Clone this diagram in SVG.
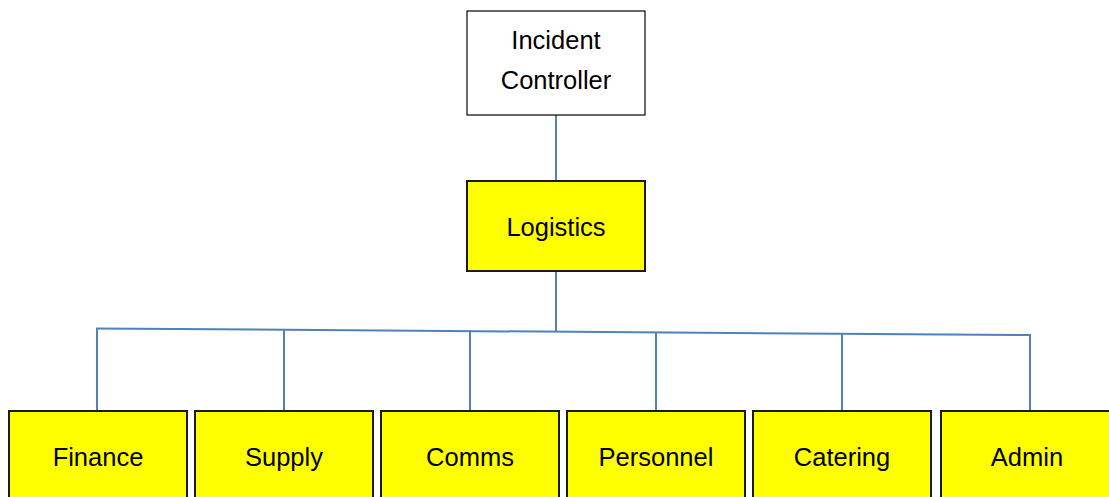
<svg xmlns="http://www.w3.org/2000/svg" width="1109" height="497" viewBox="0 0 1109 497">
  <style>
    .box { stroke: #1a1a1a; stroke-width: 2; }
    .top { fill: #ffffff; stroke-width: 1.3; }
    .yellow { fill: #ffff00; }
    .label { font-family: "Liberation Sans", Arial, sans-serif; font-size: 25.5px; fill: #000000; text-anchor: middle; }
    .conn { stroke: #4f81bd; stroke-width: 2; fill: none; }
  </style>
  <rect width="1109" height="497" fill="#ffffff"/>

  <!-- connectors -->
  <g id="connectors">
    <line class="conn" x1="556" y1="115" x2="556" y2="181"/>
    <line class="conn" x1="556" y1="271" x2="556" y2="332"/>
    <line class="conn" x1="96" y1="328.5" x2="1031" y2="335"/>
    <line class="conn" x1="97" y1="328.5" x2="97" y2="411"/>
    <line class="conn" x1="284" y1="330" x2="284" y2="411"/>
    <line class="conn" x1="470" y1="330" x2="470" y2="411"/>
    <line class="conn" x1="656" y1="332" x2="656" y2="411"/>
    <line class="conn" x1="842" y1="333" x2="842" y2="411"/>
    <line class="conn" x1="1030" y1="335" x2="1030" y2="411"/>
  </g>

  <g id="incident-controller">
    <rect class="box top" x="467" y="11" width="178" height="104"/>
    <text class="label" x="556" y="49">Incident</text>
    <text class="label" x="556" y="89">Controller</text>
  </g>

  <g id="logistics">
    <rect class="box yellow" x="467" y="181" width="178" height="90"/>
    <text class="label" x="556" y="236">Logistics</text>
  </g>

  <g id="finance">
    <rect class="box yellow" x="9" y="411" width="178" height="100"/>
    <text class="label" x="98" y="466">Finance</text>
  </g>

  <g id="supply">
    <rect class="box yellow" x="195" y="411" width="178" height="100"/>
    <text class="label" x="284" y="466">Supply</text>
  </g>

  <g id="comms">
    <rect class="box yellow" x="381" y="411" width="178" height="100"/>
    <text class="label" x="470" y="466">Comms</text>
  </g>

  <g id="personnel">
    <rect class="box yellow" x="567" y="411" width="178" height="100"/>
    <text class="label" x="656" y="466">Personnel</text>
  </g>

  <g id="catering">
    <rect class="box yellow" x="753" y="411" width="178" height="100"/>
    <text class="label" x="842" y="466">Catering</text>
  </g>

  <g id="admin">
    <rect class="box yellow" x="941" y="411" width="178" height="100"/>
    <text class="label" x="1027" y="466">Admin</text>
  </g>
</svg>
